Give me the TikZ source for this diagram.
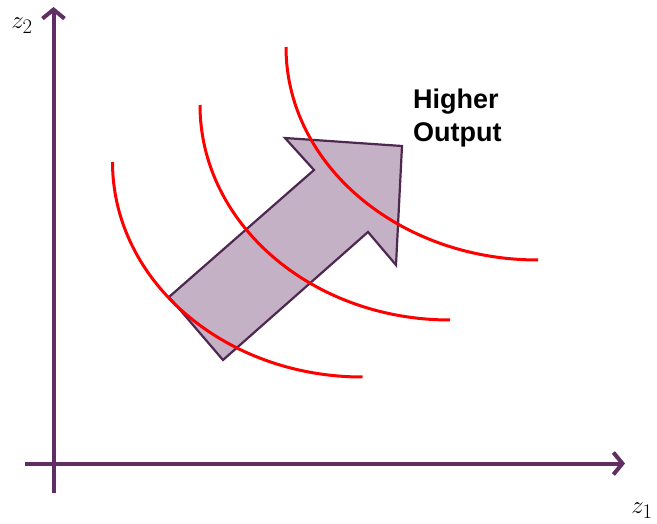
\documentclass[tikz,border=0pt]{standalone}
\usepackage{fontspec}
\newfontfamily\labelfont{Liberation Sans}
\usetikzlibrary{arrows.meta}

\definecolor{axispurple}{RGB}{96,45,100}
\definecolor{arrowfill}{RGB}{197,177,198}
\definecolor{arrowline}{RGB}{78,40,80}

\begin{document}
\begin{tikzpicture}[
    x=1pt, y=-1pt,
    axis/.style={line width=4pt, axispurple, -{Straight Barb[length=9pt, width=22pt, line width=4pt]}},
    isoquant/.style={line width=3pt, red},
    bigarrow/.style={line width=2.2pt, draw=arrowline, fill=arrowfill, line join=miter},
    axislabel/.style={font=\fontsize{31}{34}\selectfont, inner sep=0pt},
]
\useasboundingbox (0,0) rectangle (657,524);

% ---- Axes ----
\coordinate (ybot) at (53.5,493);
\coordinate (ytop) at (53.5,7);
\coordinate (xleft) at (25,463.5);
\coordinate (xright) at (625,463.5);
\draw[axis] (ybot) -- (ytop);
\draw[axis] (xleft) -- (xright);

\node[axislabel] (z2) at (22,26) {$z_2$};
\node[axislabel] (z1) at (642,511) {$z_1$};

% ---- Direction of higher output ----
\draw[bigarrow] (169,297) -- (223,360) -- (368,232) -- (396,265)
    -- (402,146) -- (285,138) -- (314,170) -- cycle;

% ---- Isoquants ----
\draw[isoquant] (112.5,162) arc[start angle=180, end angle=90, x radius=250, y radius=215];
\draw[isoquant] (200,105) arc[start angle=180, end angle=90, x radius=250, y radius=215];
\draw[isoquant] (286,47) arc[start angle=180, end angle=90, x radius=252, y radius=213];

% ---- Label ----
\node[font=\labelfont\bfseries\fontsize{27}{33}\selectfont, align=left, anchor=north west, inner sep=0pt]
    (higher) at (413,89) {Higher\\Output};

\end{tikzpicture}
\end{document}
